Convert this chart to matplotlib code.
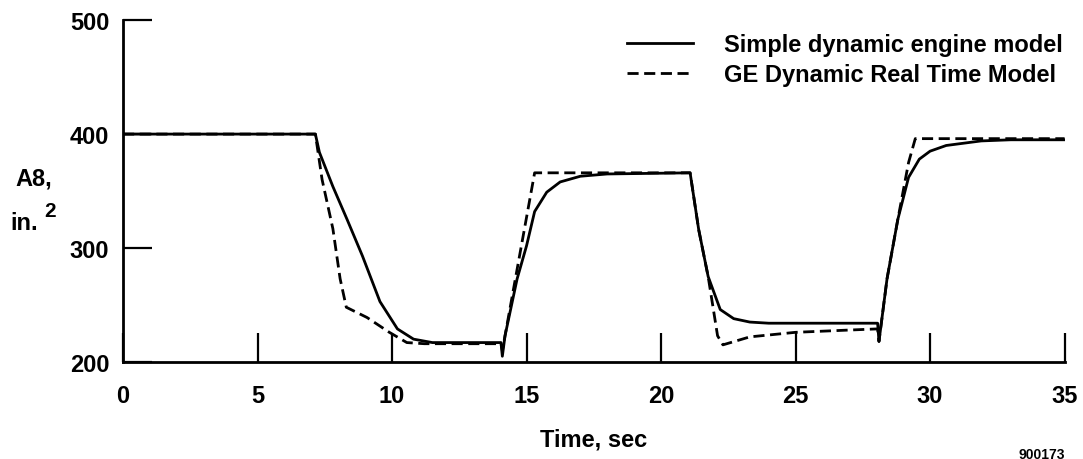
import matplotlib
matplotlib.use("Agg")
import matplotlib.pyplot as plt

plt.rcParams["font.family"] = ["Liberation Sans", "DejaVu Sans"]
plt.rcParams["font.weight"] = "bold"

# time (s) and A8 (in.^2)
t_simple = [0, 7.15, 7.3, 7.8, 8.33, 8.9, 9.55, 10.2, 10.8, 11.5, 14.05, 14.1, 14.2, 14.65,
            15.0, 15.3, 15.75, 16.25, 17.0, 18.0, 21.08, 21.4, 21.75, 22.2, 22.7, 23.3, 24.0,
            28.05, 28.1, 28.4, 28.8, 29.2, 29.6, 30.0, 30.6, 31.9, 33.0, 35.0]
a8_simple = [400, 400, 384, 354, 325, 293, 253, 229, 220, 217, 217, 205, 223, 273,
             302, 332, 349, 358, 363, 365, 366, 316, 275, 246, 238, 235, 234,
             234, 218, 273, 325, 362, 378, 385, 390, 394, 395, 395]

t_ge = [0, 7.15, 7.4, 7.8, 8.07, 8.3, 9.07, 9.9, 10.55, 11.2, 14.05, 14.1, 15.3, 21.08,
        21.4, 21.75, 22.1, 22.3, 23.3, 25.0, 27.0, 28.05, 28.1, 28.4, 28.8, 29.2, 29.45, 35.0]
a8_ge = [400, 400, 360, 317, 273, 248, 239, 226, 217, 216, 216, 210, 366, 366,
         316, 275, 223, 215, 222, 226, 228, 229, 218, 273, 325, 375, 396, 396]

xticks = [0, 5, 10, 15, 20, 25, 30, 35]
yticks = [200, 300, 400, 500]

fig = plt.figure(figsize=(10.83, 4.6), dpi=100)
ax = fig.add_axes([0.1136, 0.211, 0.8694, 0.743])

ax.plot(t_simple, a8_simple, color="black", lw=2.0, label="Simple dynamic engine model")
ax.plot(t_ge, a8_ge, color="black", lw=2.0, ls=(0, (4, 2)), label="GE Dynamic Real Time Model")

ax.set_xlim(0, 35); ax.set_ylim(200, 500)
ax.set_xticks(xticks); ax.set_yticks(yticks)
ax.tick_params(axis="both", direction="in", length=21, width=1.6, labelsize=17)
ax.tick_params(axis="x", pad=16)
ax.tick_params(axis="y", pad=10)
for lbl in ax.get_xticklabels() + ax.get_yticklabels():
    lbl.set_fontweight("bold")
ax.spines[["top", "right"]].set_visible(False)
for s in ["left", "bottom"]:
    ax.spines[s].set_linewidth(2.0)

ax.set_xlabel("Time, sec", fontsize=17, fontweight="bold", labelpad=15)

# y label written as two lines with a raised "2"
fig.text(0.031, 0.611, "A8,", fontsize=17, fontweight="bold", ha="center", va="center")
fig.text(0.022, 0.515, "in.", fontsize=17, fontweight="bold", ha="center", va="center")
fig.text(0.046, 0.541, "2", fontsize=15, fontweight="bold", ha="center", va="center")

ax.legend(loc="upper right", bbox_to_anchor=(1.008, 0.99), frameon=False,
          prop=dict(size=17, weight="bold"), handlelength=2.8, handletextpad=1.3,
          labelspacing=0.3, borderaxespad=0)

fig.text(0.962, -0.004, "900173", fontsize=10, ha="center", va="bottom")

fig.savefig("out.png", dpi=100)
